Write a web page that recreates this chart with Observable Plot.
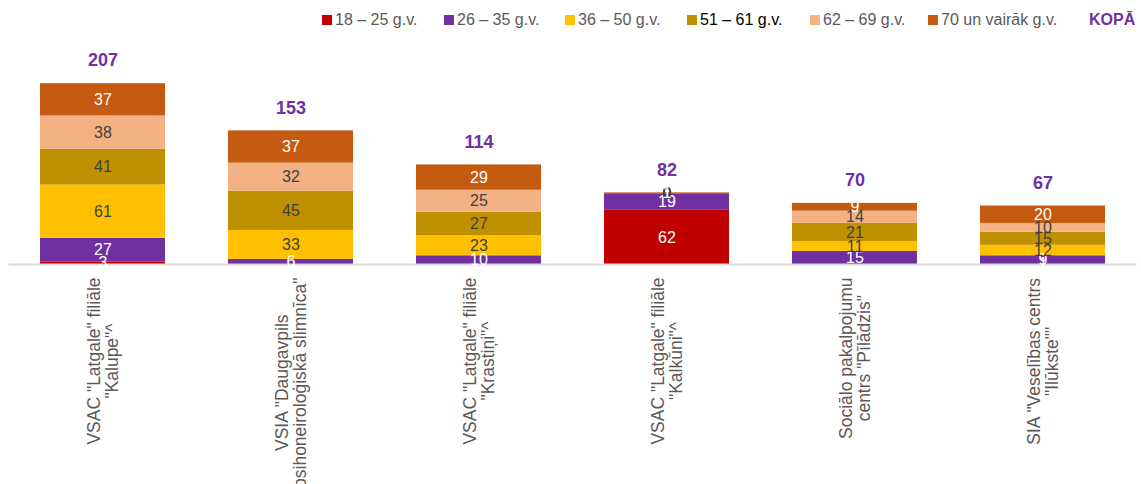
<!DOCTYPE html>
<html>
<head>
<meta charset="utf-8">
<script src="https://cdn.jsdelivr.net/npm/d3@7"></script>
<script src="https://cdn.jsdelivr.net/npm/@observablehq/plot@0.6"></script>
<style>
  body { margin: 0; background: #fff; font-family: Arial, "Liberation Sans", sans-serif; }
  #legend { position: relative; height: 40px; width: 1141px; }
  .item { position: absolute; top: 11px; display: flex; align-items: center; font-size: 16px; color: #595959; white-space: nowrap; }
  .sw { width: 10px; height: 10px; margin-right: 3px; }
  #chart { width: 1141px; height: 444px; overflow: hidden; }
</style>
</head>
<body>
<div id="legend"></div>
<div id="chart"></div>
<script>
const categories = [
  'VSAC "Latgale" filiāle\n"Kalupe"^',
  'VSIA "Daugavpils\npsihoneiroloģiskā slimnīca"',
  'VSAC "Latgale" filiāle\n"Krastiņi"^',
  'VSAC "Latgale" filiāle\n"Kalkūni"^',
  'Sociālo pakalpojumu\ncentrs "Pīlādzis"',
  'SIA "Veselības centrs\n"Ilūkste""'
];
const ages = ["18 – 25 g.v.", "26 – 35 g.v.", "36 – 50 g.v.", "51 – 61 g.v.", "62 – 69 g.v.", "70 un vairāk g.v."];
const v18_25 = [3, null, null, 62, null, 1];
const v26_35 = [27, 6, 10, 19, 15, 9];
const v36_50 = [61, 33, 23, 0, 11, 12];
const v51_61 = [41, 45, 27, 0, 21, 15];
const v62_69 = [38, 32, 25, 0, 14, 10];
const v70 = [37, 37, 29, 1, 9, 20];
const kopa = [207, 153, 114, 82, 70, 67];
const totalLabel = "KOPĀ";

const colors = ["#C00000", "#7030A0", "#FFC000", "#BF9000", "#F4B183", "#C55A11"];
const labelColors = ["#ffffff", "#ffffff", "#404040", "#404040", "#404040", "#ffffff"];
const series = [v18_25, v26_35, v36_50, v51_61, v62_69, v70];

const rows = ages.flatMap((a, j) => categories.map((c, i) => ({cat: c, age: a, j, value: series[j][i]})))
  .filter(d => d.value != null);

// legend
const legend = document.getElementById("legend");
const legendX = [322, 444, 565, 687, 810, 928];
ages.forEach((a, j) => {
  const it = document.createElement("div");
  it.className = "item";
  it.style.left = legendX[j] + "px";
  if (j === 3) it.style.color = "#000";
  const sw = document.createElement("span");
  sw.className = "sw";
  sw.style.background = colors[j];
  const t = document.createElement("span");
  t.textContent = a;
  it.append(sw, t);
  legend.append(it);
});
const kp = document.createElement("div");
kp.className = "item";
kp.style.left = "1089px";
kp.style.color = "#7030A0";
kp.style.fontWeight = "bold";
kp.textContent = totalLabel;
legend.append(kp);

// measure label widths for axis text placement
const axisFont = 17.5;
const ctx = document.createElement("canvas").getContext("2d");
ctx.font = axisFont + 'px Arial, "Liberation Sans", sans-serif';
const maxW = s => Math.max(...s.split("\n").map(l => ctx.measureText(l).width));

const labelMarks = categories.map(c => Plot.text([c], {
  x: d => d, text: d => d, frameAnchor: "bottom", rotate: -90,
  textAnchor: "middle", lineAnchor: "middle", lineHeight: 1.03,
  dy: 13 + maxW(c) / 2, fill: "#595959", fontSize: axisFont
}));

const chart = Plot.plot({
  width: 1141, height: 444,
  marginTop: 10, marginBottom: 220, marginLeft: 8.5, marginRight: 4.5,
  x: {domain: categories, paddingInner: 0.335, paddingOuter: 0.1675, axis: null},
  y: {domain: [0, 245], axis: null},
  color: {domain: ages, range: colors},
  style: {fontFamily: 'Arial, "Liberation Sans", sans-serif', fontSize: "16px", background: "white", overflow: "visible"},
  marks: [
    Plot.barY(rows, {x: "cat", y: "value", fill: "age", order: ages}),
    Plot.ruleY([0], {stroke: "#d9d9d9", strokeWidth: 2}),
    Plot.text(rows, Plot.stackY({
      x: "cat", y: "value", z: "age", order: ages,
      text: d => String(d.value), fill: d => labelColors[d.j], fontSize: 16
    })),
    Plot.text(categories, {
      x: d => d, y: (d, i) => kopa[i], text: (d, i) => String(kopa[i]),
      dy: -23, fill: "#7030A0", fontWeight: "bold", fontSize: 18
    }),
    ...labelMarks
  ]
});
document.getElementById("chart").append(chart);
</script>
</body>
</html>
